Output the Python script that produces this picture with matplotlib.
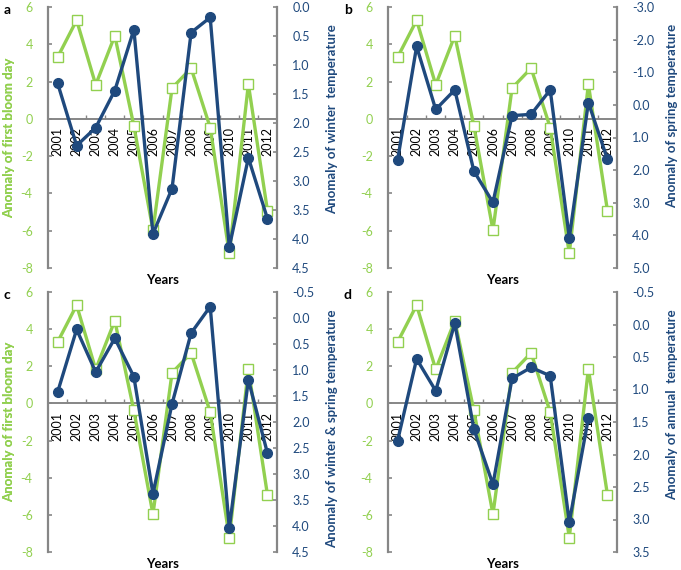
import matplotlib
matplotlib.use("Agg")
import matplotlib.pyplot as plt
import numpy as np

plt.rcParams['font.family'] = ['Lato', 'DejaVu Sans']

years = ["2001", "2002", "2003", "2004", "2005", "2006", "2007", "2008", "2009", "2010", "2011", "2012"]
bloom_anomaly = [3.30, 5.29, 1.83, 4.46, -0.38, -5.97, 1.65, 2.72, -0.47, -7.22, 1.86, -4.93]

winter_temp = [1.31, 2.39, 2.08, 1.44, 0.39, 3.91, 3.13, 0.44, 0.18, 4.14, 2.60, 3.65]
spring_temp = [1.70, -1.79, 0.14, -0.46, 2.03, 2.99, 0.33, 0.29, -0.46, 4.07, -0.07, 1.67]
winter_spring_temp = [1.43, 0.22, 1.04, 0.39, 1.13, 3.38, 1.65, 0.29, -0.22, 4.04, 1.19, 2.60]
annual_temp = [1.79, 0.53, 1.02, -0.02, 1.61, 2.46, 0.83, 0.66, 0.79, 3.04, 1.44, np.nan]

left_ticks = [-8, -6, -4, -2, 0, 2, 4, 6]
panels = [
    ("a", winter_temp, "Anomaly of winter  temperature", (0.0, 4.5), 0.5),
    ("b", spring_temp, "Anomaly of spring temperature", (-3.0, 5.0), 1.0),
    ("c", winter_spring_temp, "Anomaly of winter & spring temperature", (-0.5, 4.5), 0.5),
    ("d", annual_temp, "Anomaly of annual  temperature", (-0.5, 3.5), 0.5),
]

GREEN = "#92D050"
BLUE = "#1F497D"
GRAY = "#868686"

W, H = 681, 570
fig = plt.figure(figsize=(W / 100, H / 100), dpi=100)

# axes rectangles in pixels (left, top, right, bottom)
rects = [(48, 7, 277, 268), (388, 7, 617, 268), (48, 292, 277, 552), (388, 292, 617, 552)]

x = np.arange(len(years))
for (letter, temp, rlabel, (rlo, rhi), rstep), (l, t, r, b) in zip(panels, rects):
    ax = fig.add_axes([l / W, 1 - b / H, (r - l) / W, (b - t) / H])
    ax.set_facecolor('none')
    ax.plot(x, bloom_anomaly, color=GREEN, lw=2.4, marker='s', ms=6.5,
            mfc='white', mec=GREEN, mew=1.0, zorder=3)
    ax.set_xlim(-0.5, len(years) - 0.5)
    ax.set_ylim(-8, 6)
    ax.set_yticks(left_ticks)
    ax.set_yticklabels([str(v) for v in left_ticks])
    ax.tick_params(axis='y', direction='in', length=3, width=1.2, color=GRAY,
                   labelcolor=GREEN, labelsize=9, pad=11)
    for s in ['top', 'right']:
        ax.spines[s].set_visible(False)
    ax.spines['left'].set_color(GRAY)
    ax.spines['left'].set_linewidth(1.6)
    ax.spines['bottom'].set_position(('data', 0))
    ax.spines['bottom'].set_color(GRAY)
    ax.spines['bottom'].set_linewidth(1.4)
    ax.set_xticks(np.arange(0.5, len(years) - 1, 1.0))
    ax.set_xticklabels([])
    ax.tick_params(axis='x', which='major', direction='in', length=3, width=1.0, color=GRAY)
    ax.set_xticks(x, minor=True)
    ax.set_xticklabels(years, minor=True, rotation=90)
    ax.tick_params(axis='x', which='minor', length=0, labelsize=9, pad=6, labelcolor='black')
    ax.text(0.5, -0.045, "Years", transform=ax.transAxes, ha='center', va='center',
            fontsize=9.5, fontweight='bold')

    ax2 = ax.twinx()
    ax2.plot(x, temp, color=BLUE, lw=2.4, marker='o', ms=7, mfc=BLUE, mec=BLUE, zorder=4)
    ax2.set_ylim(rhi, rlo)
    rt = np.arange(rlo, rhi + rstep / 2, rstep)
    ax2.set_yticks(rt)
    ax2.set_yticklabels([f"{v:.1f}" for v in rt])
    ax2.tick_params(axis='y', direction='in', length=3, width=1.2, color=GRAY,
                    labelcolor=BLUE, labelsize=9, pad=11)
    for s in ['top', 'left', 'bottom']:
        ax2.spines[s].set_visible(False)
    ax2.spines['right'].set_color(GRAY)
    ax2.spines['right'].set_linewidth(1.6)

    # axis titles
    fig.text(9 / W, 1 - ((t + b) / 2) / H, "Anomaly of first bloom day", rotation=90,
             ha='center', va='center', color=GREEN, fontsize=9.5, fontweight='bold')
    fig.text((r + 55) / W, 1 - (t + 17) / H, rlabel, rotation=90,
             ha='center', va='top', color=BLUE, fontsize=9.5, fontweight='bold')
    fig.text((l - 44) / W, 1 - (t + 3) / H, letter, ha='left', va='center',
             fontsize=10, fontweight='bold', color='black')

fig.savefig("out.png", dpi=100)
